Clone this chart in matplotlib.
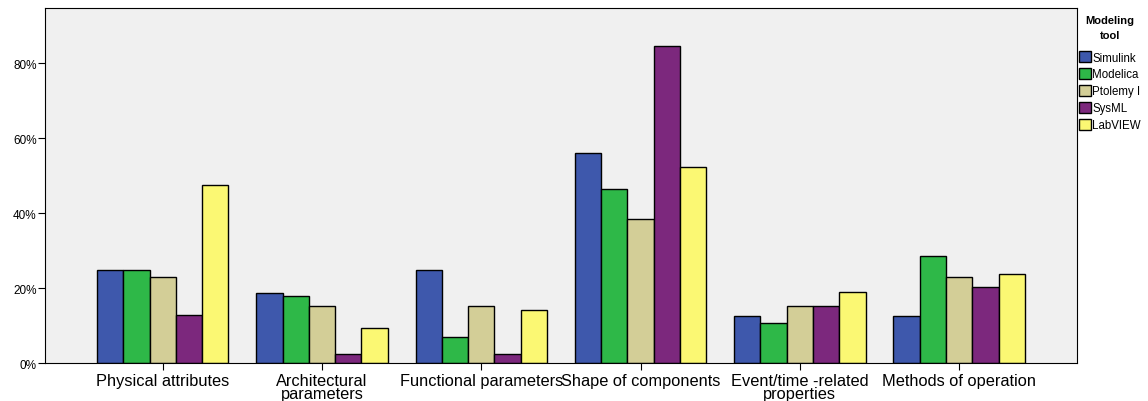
import numpy as np
from matplotlib import pyplot as plt
from matplotlib.ticker import FuncFormatter

plt.rcParams['font.family'] = ['Liberation Sans', 'DejaVu Sans']

categories = ["Physical attributes", "Architectural\nparameters", "Functional parameters",
              "Shape of components", "Event/time -related\nproperties", "Methods of operation"]
tools = ["Simulink", "Modelica", "Ptolemy I", "SysML", "LabVIEW"]
simulink = [25.0, 18.7, 25.0, 56.2, 12.5, 12.5]
modelica = [25.0, 17.9, 7.1, 46.4, 10.7, 28.5]
ptolemy = [23.0, 15.4, 15.4, 38.4, 15.4, 23.0]
sysml = [12.8, 2.6, 2.6, 84.6, 15.4, 20.4]
labview = [47.6, 9.4, 14.3, 52.3, 19.0, 23.8]
colors = ["#3e58ac", "#2eb848", "#d3ce97", "#7c287d", "#fbf873"]

series = [simulink, modelica, ptolemy, sysml, labview]

fig = plt.figure(figsize=(11.48, 4.02), dpi=100)
ax = fig.add_axes([0.0392, 0.0938, 0.8988, 0.8830])
ax.set_facecolor("#f0f0f0")

x = np.arange(len(categories))
w = 0.165
for i, (vals, name, c) in enumerate(zip(series, tools, colors)):
	ax.bar(x + (i - 2) * w, vals, width=w, color=c, edgecolor="black", linewidth=1.0, label=name)

ax.set_xlim(-0.739, 5.739)
ax.set_ylim(0, 94.7)
ax.set_yticks([0, 20, 40, 60, 80])
ax.yaxis.set_major_formatter(FuncFormatter(lambda v, p: f"{v:.0f}%"))
ax.set_xticks(x)
ax.set_xticklabels(categories, fontsize=11.8, linespacing=0.85)
ax.tick_params(axis='y', labelsize=8.5, length=5, width=0.8, pad=1)
ax.tick_params(axis='x', length=5, width=0.8, pad=2)
for s in ax.spines.values():
	s.set_linewidth(0.8)

leg = ax.legend(title="Modeling\ntool", loc="upper left", bbox_to_anchor=(1.0, 0.985),
                frameon=False, fontsize=8.3, title_fontproperties={'weight': 'bold', 'size': 8},
                handlelength=1.05, handleheight=1.05, handletextpad=0.15, labelspacing=0.4,
                borderaxespad=0.0, borderpad=0.15)
leg.get_title().set_multialignment("center")
leg.get_title().set_linespacing(1.6)
leg._legend_box.align = "center"
leg._legend_box.sep = 8

fig.savefig("out.png", dpi=100)
